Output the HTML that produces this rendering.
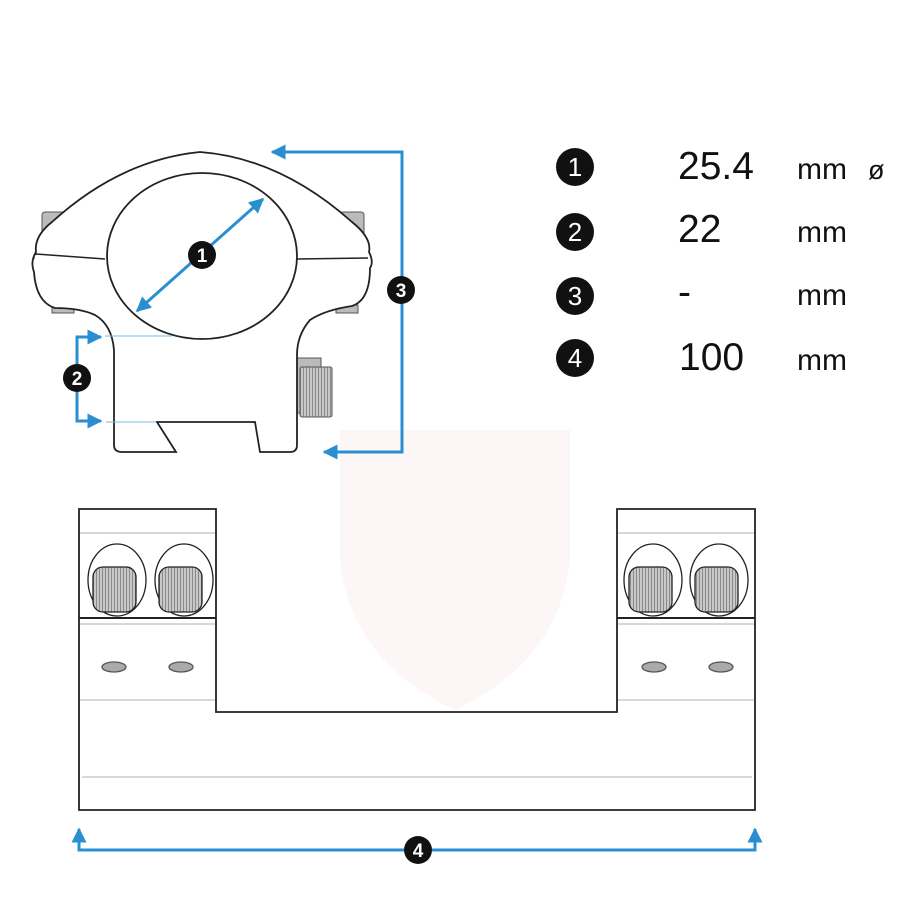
<!DOCTYPE html>
<html><head><meta charset="utf-8"><style>html,body{margin:0;padding:0;background:#fff}svg{display:block}</style></head>
<body>
<svg width="900" height="900" viewBox="0 0 900 900" xmlns="http://www.w3.org/2000/svg" font-family="Liberation Sans, sans-serif">
<defs>
<marker id="ar" viewBox="0 0 10 10" refX="9" refY="5" markerWidth="5" markerHeight="5" orient="auto-start-reverse"><path d="M0,0 L10,5 L0,10 z" fill="#2a8fd0"/></marker>
<pattern id="kn" width="3" height="4" patternUnits="userSpaceOnUse"><rect width="3" height="4" fill="#c8c8c8"/><rect width="1" height="4" fill="#8a8a8a"/></pattern>
</defs>
<path d="M340,430 L570,430 L570,560 Q560,660 455,710 Q350,660 340,560 Z" fill="#d820200a" stroke="none"/>
<!-- top ring -->
<rect x="42" y="212" width="24" height="25" rx="3" fill="#bbb" stroke="#555"/>
<rect x="340" y="212" width="24" height="25" rx="3" fill="#bbb" stroke="#555"/>
<rect x="52" y="305" width="22" height="8" fill="#bbb" stroke="#555"/>
<rect x="336" y="305" width="22" height="8" fill="#bbb" stroke="#555"/>
<rect x="297" y="358" width="24" height="55" fill="#bbb" stroke="#555"/>
<rect x="300" y="367" width="32" height="50" rx="2" fill="url(#kn)" stroke="#555"/>
<path d="M36,252 Q34,236 52,222 Q120,160 200,152 Q280,158 352,222 Q372,238 369,252 Q374,262 370,268 Q370,300 352,306 Q325,310 310,320 Q297,335 297,355 L297,445 Q297,452 290,452 L260,452 L255,422 L157,422 L176,452 L122,452 Q114,452 114,445 L114,350 Q112,325 95,315 Q80,308 55,308 Q36,302 34,272 Q30,262 36,252 Z" fill="#fff" stroke="#222" stroke-width="1.8"/>
<path d="M34,259 Q33,255 36,254 L105,259 M297,259 L368,258" fill="none" stroke="#222" stroke-width="1.5"/>
<ellipse cx="202" cy="256" rx="95" ry="83" fill="#fff" stroke="#222" stroke-width="1.8"/>
<line x1="137" y1="311" x2="263" y2="199" stroke="#2a8fd0" stroke-width="3" marker-start="url(#ar)" marker-end="url(#ar)"/>
<polyline points="272,152 402,152 402,452 324,452" fill="none" stroke="#2a8fd0" stroke-width="3" marker-start="url(#ar)" marker-end="url(#ar)"/>
<polyline points="101,337 77,337 77,421 101,421" fill="none" stroke="#2a8fd0" stroke-width="3" marker-start="url(#ar)" marker-end="url(#ar)"/>
<line x1="105" y1="336" x2="172" y2="336" stroke="#7ab8e0" stroke-width="1"/>
<line x1="106" y1="422" x2="155" y2="422" stroke="#7ab8e0" stroke-width="1"/>
<g fill="#111"><circle cx="202" cy="255" r="14"/><circle cx="401" cy="290" r="14"/><circle cx="77" cy="378" r="14"/></g>
<g fill="#fff" font-size="19" font-weight="bold" text-anchor="middle"><text x="202" y="262">1</text><text x="401" y="297">3</text><text x="77" y="385">2</text></g>
<!-- bottom mount -->
<path d="M79,509 L216,509 L216,712 L617,712 L617,509 L755,509 L755,810 L79,810 Z" fill="#fff" stroke="#222" stroke-width="1.8"/>
<g stroke="#ccc" stroke-width="1.5"><line x1="80" y1="533" x2="215" y2="533"/><line x1="618" y1="533" x2="754" y2="533"/><line x1="80" y1="700" x2="215" y2="700"/><line x1="618" y1="700" x2="754" y2="700"/><line x1="82" y1="777" x2="752" y2="777"/><line x1="80" y1="624" x2="215" y2="624"/><line x1="618" y1="624" x2="754" y2="624"/></g>
<g stroke="#222" stroke-width="2"><line x1="79" y1="618" x2="216" y2="618"/><line x1="617" y1="618" x2="755" y2="618"/></g>
<g stroke="#222" stroke-width="1.3">
<ellipse cx="117" cy="580" rx="29" ry="36" fill="#fff"/><ellipse cx="184" cy="580" rx="29" ry="36" fill="#fff"/>
<ellipse cx="653" cy="580" rx="29" ry="36" fill="#fff"/><ellipse cx="719" cy="580" rx="29" ry="36" fill="#fff"/>
<rect x="93" y="567" width="43" height="45" rx="10" fill="url(#kn)"/><rect x="159" y="567" width="43" height="45" rx="10" fill="url(#kn)"/>
<rect x="629" y="567" width="43" height="45" rx="10" fill="url(#kn)"/><rect x="695" y="567" width="43" height="45" rx="10" fill="url(#kn)"/>
<g fill="#aaa" stroke="#555"><ellipse cx="114" cy="667" rx="12" ry="5"/><ellipse cx="181" cy="667" rx="12" ry="5"/><ellipse cx="654" cy="667" rx="12" ry="5"/><ellipse cx="721" cy="667" rx="12" ry="5"/></g>
</g>
<polyline points="79,829 79,850 404,850" fill="none" stroke="#2a8fd0" stroke-width="3" marker-start="url(#ar)"/>
<polyline points="755,829 755,850 432,850" fill="none" stroke="#2a8fd0" stroke-width="3" marker-start="url(#ar)"/>
<circle cx="418" cy="850" r="14" fill="#111"/><text x="418" y="857" fill="#fff" font-size="19" font-weight="bold" text-anchor="middle">4</text>
<!-- legend -->
<g fill="#111"><circle cx="575" cy="167" r="19"/><circle cx="575" cy="232" r="19"/><circle cx="575" cy="296" r="19"/><circle cx="575" cy="358" r="19"/></g>
<g fill="#fff" font-size="26" text-anchor="middle"><text x="575" y="176">1</text><text x="575" y="241">2</text><text x="575" y="305">3</text><text x="575" y="367">4</text></g>
<g fill="#111" font-size="39"><text x="678" y="179">25.4</text><text x="678" y="242">22</text><text x="678" y="305">-</text><text x="679" y="370">100</text></g>
<g fill="#111" font-size="30"><text x="797" y="179">mm</text><text x="868" y="179" font-size="27">ø</text><text x="797" y="242">mm</text><text x="797" y="305">mm</text><text x="797" y="370">mm</text></g>
</svg>
</body></html>
